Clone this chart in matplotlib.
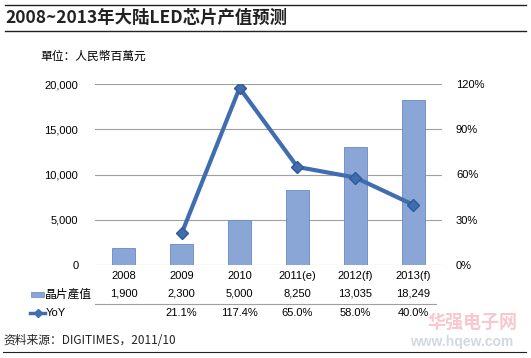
import matplotlib
matplotlib.use("Agg")
import matplotlib.pyplot as plt
import matplotlib.transforms as mtransforms
from matplotlib.lines import Line2D

plt.rcParams['font.family'] = ['Liberation Sans', 'Noto Sans CJK SC', 'DejaVu Sans']

years = ["2008", "2009", "2010", "2011(e)", "2012(f)", "2013(f)"]
chip_value = [1900, 2300, 5000, 8250, 13035, 18249]
chip_labels = ["1,900", "2,300", "5,000", "8,250", "13,035", "18,249"]
yoy = [None, 21.1, 117.4, 65.0, 58.0, 40.0]
yoy_labels = ["", "21.1%", "117.4%", "65.0%", "58.0%", "40.0%"]

BAR = "#8aa6d6"
BAR_EDGE = "#6a89c0"
LINE = "#3f6db0"
CJK = ['Noto Sans CJK SC', 'DejaVu Sans']

fig = plt.figure(figsize=(5.31, 3.58), dpi=100)
W, H = 531, 358

# title with rules
fig.add_artist(Line2D([5 / W, 526 / W], [1 - 5 / H, 1 - 5 / H], color="#222222", lw=1))
fig.add_artist(Line2D([5 / W, 526 / W], [1 - 31 / H, 1 - 31 / H], color="#222222", lw=1))
fig.text(5 / W, 1 - 18 / H, "2008~2013年大陆LED芯片产值预测", family=CJK,
         fontsize=12.5, fontweight="bold", color="#222222", va="center")
fig.text(40 / W, 1 - 56 / H, "單位：人民幣百萬元", family=CJK, fontsize=8.5, va="center")

ax = fig.add_axes([95 / W, 1 - 265 / H, 347 / W, 181 / H])
x = list(range(len(years)))
ax.bar(x, chip_value, width=0.4, color=BAR, edgecolor=BAR_EDGE, linewidth=0.6, zorder=2)
ax.set_xlim(-0.5, len(years) - 0.5)
ax.set_ylim(0, 20000)
ax.set_yticks(range(0, 20001, 5000))
ax.set_yticklabels([f"{v:,}" for v in range(0, 20001, 5000)], fontsize=8)
ax.set_xticks([])
for s in ax.spines.values():
    s.set_visible(False)
ax.tick_params(axis="y", length=0, pad=12)
ax.grid(axis="y", color="#a0a0a0", lw=0.8, zorder=0)
ax.set_axisbelow(True)

ax2 = ax.twinx()
xs = [i for i, v in enumerate(yoy) if v is not None]
ys = [v for v in yoy if v is not None]
ax2.plot(xs, ys, color=LINE, lw=3, marker="D", markersize=6,
         markerfacecolor=LINE, markeredgecolor="#2f5a98", zorder=3)
ax2.set_ylim(0, 120)
ax2.set_yticks(range(0, 121, 30))
ax2.set_yticklabels([f"{v}%" for v in range(0, 121, 30)], fontsize=8)
ax2.tick_params(axis="y", length=0, pad=10)
for s in ax2.spines.values():
    s.set_visible(False)

# data table under the plot
tr = mtransforms.blended_transform_factory(ax.transData, fig.transFigure)
for i in x:
    ax.text(i, 1 - 276 / H, years[i], transform=tr, ha="center", va="center", fontsize=8)
    ax.text(i, 1 - 294 / H, chip_labels[i], transform=tr, ha="center", va="center", fontsize=8)
    ax.text(i, 1 - 313 / H, yoy_labels[i], transform=tr, ha="center", va="center", fontsize=8)
fig.add_artist(Line2D([95 / W, 436 / W], [1 - 304 / H, 1 - 304 / H], color="#a0a0a0", lw=0.8))

fig.add_artist(plt.Rectangle((31 / W, 1 - 297 / H), 13 / W, 5 / H, facecolor=BAR,
                             edgecolor=BAR_EDGE, lw=0.5))
fig.text(45 / W, 1 - 294 / H, "晶片產值", family=CJK, fontsize=8.5, va="center")
fig.add_artist(Line2D([30 / W, 37.5 / W, 45 / W], [1 - 313 / H] * 3, color=LINE, lw=2.5,
                      marker="D", markersize=4.5, markevery=[1], markerfacecolor=LINE))
fig.text(46 / W, 1 - 313 / H, "YoY", fontsize=8, va="center")

# watermark
fig.text(428 / W, 1 - 322 / H, "华强电子网", family=CJK, fontsize=13, fontweight="bold",
         color="#f06070", alpha=0.35, va="center")
fig.text(410 / W, 1 - 342 / H, "www.hqew.com", fontsize=10, fontweight="bold",
         color="#8090a8", alpha=0.35, va="center")

fig.text(3 / W, 1 - 340 / H, "资料来源：DIGITIMES，2011/10", family=CJK, fontsize=8.5,
         color="#222222", va="center")
fig.add_artist(Line2D([3 / W, 526 / W], [1 - 352 / H, 1 - 352 / H], color="#222222", lw=0.8))

fig.savefig("out.png", dpi=100)
